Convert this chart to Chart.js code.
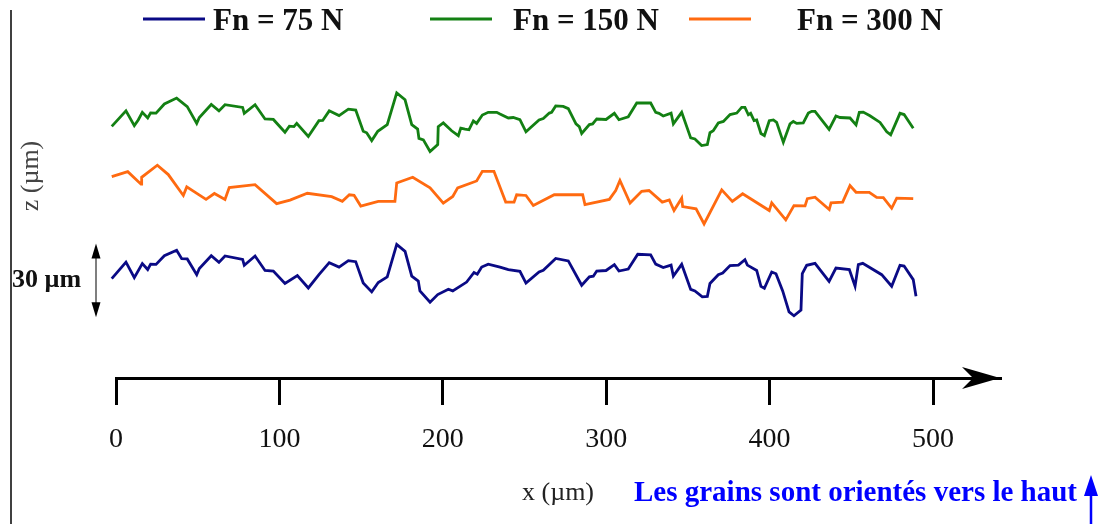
<!DOCTYPE html>
<html>
<head>
<meta charset="utf-8">
<script src="https://cdn.jsdelivr.net/npm/chart.js@4"></script>
<style>
  html, body { margin: 0; padding: 0; background: #fff; }
  #wrap { width: 1102px; height: 524px; }
</style>
</head>
<body>
<div id="wrap"><canvas id="profiles"></canvas></div>
<script>
// profile data, x and z in µm (curves are shifted vertically, as in the figure)
const seriesLabels = ["Fn = 75 N", "Fn = 150 N", "Fn = 300 N"];
const seriesColors = ["#0a0a85", "#138013", "#ff6a10"];
const xTicks = [0, 100, 200, 300, 400, 500];

const fn75X = [-2.6, 6.1, 11.2, 16.1, 19.4, 21.2, 24.5, 29.6, 37.1, 40.2, 43.6, 49.4, 51.0, 58.3, 63.0, 66.7, 77.5, 78.5, 85.1, 91.2,
  96.3, 103.4, 111.0, 117.7, 124.2, 130.5, 136.5, 142.2, 146.7, 151.3, 156.5, 160.5, 166.0, 171.8, 176.9, 181.0, 185.0, 186.0, 192.2, 196.9,
  203.4, 206.1, 214.6, 219.1, 221.1, 223.8, 227.8, 235.0, 240.1, 247.2, 250.9, 258.9, 261.5, 269.1, 276.8, 285.0, 289.7, 292.1, 294.2, 299.9,
  305.0, 307.8, 313.5, 319.3, 327.2, 330.3, 334.9, 339.7, 341.1, 346.2, 351.7, 354.3, 358.8, 361.9, 363.5, 368.6, 371.3, 375.8, 380.9, 384.9,
  386.4, 392.1, 394.7, 396.8, 401.3, 403.9, 408.0, 411.9, 414.9, 419.2, 420.0, 422.7, 427.8, 436.4, 440.6, 448.8, 452.3, 454.3, 457.0, 468.6,
  474.7, 479.8, 482.3, 487.9, 489.6];
const fn75Z = [40.4, 47.1, 40.8, 46.5, 44.1, 46.3, 46.2, 49.7, 51.9, 48.5, 48.4, 42.0, 44.5, 49.7, 47.0, 49.6, 48.2, 45.8, 49.6, 43.7,
  43.5, 38.4, 41.6, 36.6, 42.0, 46.9, 45.1, 47.7, 47.3, 38.6, 35.0, 38.8, 41.1, 54.3, 51.5, 41.4, 39.4, 35.4, 30.8, 33.9,
  36.1, 35.4, 39.0, 42.9, 42.2, 45.1, 46.3, 45.1, 44.1, 43.4, 38.6, 43.1, 43.8, 48.6, 47.6, 37.7, 41.1, 41.4, 43.5, 43.7,
  46.1, 43.5, 44.3, 50.3, 50.1, 46.3, 44.9, 45.9, 41.4, 46.2, 36.0, 35.4, 33.0, 33.2, 38.4, 42.0, 42.7, 45.7, 45.9, 48.1,
  45.9, 43.7, 37.3, 36.5, 43.1, 42.4, 35.4, 26.9, 25.3, 27.6, 42.4, 45.8, 46.6, 39.3, 44.7, 44.1, 37.3, 46.1, 46.6, 42.0,
  37.3, 45.8, 45.5, 40.0, 33.2];

const fn150X = [-2.6, 6.1, 11.2, 13.6, 16.1, 19.4, 21.2, 24.5, 29.6, 37.1, 43.6, 49.4, 51.0, 58.3, 63.0, 66.7, 77.5, 78.5, 85.1, 91.2,
  96.3, 103.4, 106.1, 108.9, 110.6, 117.7, 124.2, 126.5, 130.5, 136.5, 142.2, 146.7, 151.3, 153.4, 156.5, 160.2, 166.0, 171.8, 176.9, 181.0,
  184.6, 185.4, 188.1, 192.2, 196.9, 197.2, 200.3, 205.4, 209.5, 211.0, 213.6, 216.0, 218.7, 220.7, 224.2, 227.8, 233.0, 235.0, 240.1, 243.1,
  247.2, 250.9, 258.9, 261.5, 265.2, 266.6, 269.1, 273.7, 276.8, 281.5, 283.5, 285.0, 289.7, 291.7, 294.2, 299.9, 305.0, 307.8, 313.5, 318.7,
  327.2, 330.3, 332.3, 334.9, 339.7, 341.1, 346.2, 351.7, 354.3, 358.4, 361.9, 363.5, 365.5, 368.6, 371.7, 375.8, 379.9, 382.9, 384.9, 387.0,
  388.4, 390.5, 392.1, 394.7, 396.8, 399.8, 402.3, 404.3, 408.4, 412.5, 414.5, 416.6, 420.6, 423.7, 425.8, 427.8, 436.4, 440.6, 443.1, 449.2,
  452.9, 454.9, 457.3, 461.4, 467.6, 471.7, 474.1, 479.8, 482.3, 487.9];
const fn150Z = [102.3, 108.6, 102.6, 104.9, 108.0, 105.7, 107.8, 107.7, 111.4, 113.8, 110.3, 103.5, 105.9, 111.2, 108.6, 111.1, 110.0, 107.6, 111.1, 105.3,
  105.1, 99.9, 102.4, 102.2, 103.5, 98.2, 104.6, 104.7, 108.6, 106.7, 109.3, 108.9, 100.3, 99.7, 96.5, 100.3, 103.0, 115.9, 113.1, 103.0,
  101.2, 97.4, 96.8, 92.1, 94.9, 102.2, 103.7, 100.5, 98.5, 101.6, 101.2, 100.9, 104.5, 103.5, 106.9, 108.0, 108.0, 107.3, 105.7, 105.9,
  105.0, 100.1, 104.9, 105.5, 107.7, 108.0, 110.6, 110.4, 109.5, 103.3, 102.2, 99.4, 103.0, 103.3, 105.3, 105.1, 107.6, 105.0, 106.2, 111.8,
  111.8, 108.0, 107.6, 106.5, 107.7, 103.3, 108.0, 97.6, 97.2, 94.5, 94.9, 99.7, 100.5, 103.7, 104.3, 107.1, 107.7, 110.0, 110.0, 107.0,
  107.6, 104.6, 104.9, 99.4, 98.5, 104.6, 104.9, 103.9, 95.8, 103.3, 104.3, 103.5, 103.7, 107.7, 108.4, 108.4, 101.1, 106.5, 105.9, 105.7,
  102.9, 108.0, 108.1, 106.6, 103.9, 100.1, 98.9, 107.6, 107.1, 101.5];

const fn300X = [-2.6, 7.2, 15.3, 15.7, 25.3, 32.0, 41.2, 43.3, 55.1, 60.2, 66.7, 69.3, 85.1, 98.3, 106.5, 117.1, 132.0, 138.5, 142.8, 145.7,
  149.8, 160.5, 170.7, 171.8, 181.6, 192.2, 200.3, 206.1, 209.1, 220.7, 224.2, 231.3, 238.5, 243.6, 245.2, 250.9, 255.4, 268.2, 285.6, 287.0,
  301.9, 305.8, 308.4, 314.6, 321.7, 326.2, 334.3, 338.6, 341.5, 346.2, 346.8, 355.0, 359.9, 370.7, 377.2, 383.5, 399.8, 401.3, 409.9, 414.9,
  421.7, 423.1, 427.8, 436.5, 437.6, 444.7, 449.2, 452.9, 461.0, 465.5, 469.6, 474.7, 477.8, 487.9];
const fn300Z = [81.9, 83.9, 78.8, 81.6, 86.5, 82.7, 74.2, 77.7, 72.6, 75.0, 72.6, 77.4, 78.6, 70.9, 72.3, 75.1, 73.7, 71.8, 74.5, 74.3,
  69.9, 71.8, 71.8, 79.3, 81.6, 77.3, 71.1, 73.8, 77.3, 80.1, 84.0, 84.0, 71.5, 71.5, 74.5, 74.2, 70.1, 74.5, 74.5, 70.5,
  72.6, 76.2, 80.3, 71.1, 75.9, 76.2, 71.5, 72.4, 68.1, 73.1, 69.7, 68.8, 62.6, 76.5, 71.8, 74.9, 68.1, 71.2, 64.3, 70.1,
  70.0, 72.9, 73.5, 68.5, 71.2, 71.5, 78.2, 75.5, 75.5, 73.4, 73.3, 69.0, 73.1, 72.9];

const toPoints = (xs, zs) => xs.map((x, i) => ({ x: x, y: zs[i] }));

const serif = "'Liberation Serif', 'DejaVu Serif', serif";

// everything drawn around the plot: legend, labels, arrows
const decorations = {
  id: "decorations",
  afterDraw(chart) {
    const ctx = chart.ctx;
    const area = chart.chartArea;
    const xs = chart.scales.x;
    const ys = chart.scales.y;
    ctx.save();

    // thin frame line on the left
    ctx.strokeStyle = "#000";
    ctx.lineWidth = 1.5;
    ctx.beginPath();
    ctx.moveTo(11, 10);
    ctx.lineTo(11, chart.height);
    ctx.stroke();

    // legend
    const slots = [{ line: 143, text: 213 }, { line: 430, text: 513 }, { line: 689, text: 797 }];
    ctx.font = "bold 31px " + serif;
    ctx.textBaseline = "alphabetic";
    ctx.textAlign = "left";
    chart.data.datasets.forEach((ds, i) => {
      ctx.strokeStyle = ds.borderColor;
      ctx.lineWidth = 3;
      ctx.beginPath();
      ctx.moveTo(slots[i].line, 19);
      ctx.lineTo(slots[i].line + 62, 19);
      ctx.stroke();
      ctx.fillStyle = "#111";
      ctx.fillText(ds.label, slots[i].text, 30);
    });

    // arrow head of the x axis
    const yAxis = xs.top;
    ctx.fillStyle = "#000";
    ctx.beginPath();
    ctx.moveTo(area.right, yAxis);
    ctx.lineTo(area.right - 38, yAxis - 11);
    ctx.lineTo(area.right - 27, yAxis);
    ctx.lineTo(area.right - 38, yAxis + 11);
    ctx.closePath();
    ctx.fill();

    // z axis title
    ctx.save();
    ctx.translate(31, 176);
    ctx.rotate(-Math.PI / 2);
    ctx.font = "26px " + serif;
    ctx.fillStyle = "#444";
    ctx.textAlign = "center";
    ctx.textBaseline = "middle";
    ctx.fillText("z (µm)", 0, 0);
    ctx.restore();

    // 30 µm scale bar, sized from the z scale
    const top = ys.getPixelForValue(54.7);
    const bot = ys.getPixelForValue(24.7);
    const bx = 96;
    ctx.strokeStyle = "#555";
    ctx.lineWidth = 1.5;
    ctx.beginPath();
    ctx.moveTo(bx, top + 6);
    ctx.lineTo(bx, bot - 6);
    ctx.stroke();
    ctx.fillStyle = "#000";
    ctx.beginPath();
    ctx.moveTo(bx, top);
    ctx.lineTo(bx - 4.5, top + 15);
    ctx.lineTo(bx + 4.5, top + 15);
    ctx.closePath();
    ctx.fill();
    ctx.beginPath();
    ctx.moveTo(bx, bot);
    ctx.lineTo(bx - 4.5, bot - 15);
    ctx.lineTo(bx + 4.5, bot - 15);
    ctx.closePath();
    ctx.fill();
    ctx.font = "bold 26px " + serif;
    ctx.fillStyle = "#111";
    ctx.textAlign = "left";
    ctx.textBaseline = "middle";
    ctx.fillText("30 µm", 12, (top + bot) / 2);

    // note on grain orientation
    ctx.font = "bold 29px " + serif;
    ctx.fillStyle = "#0000ff";
    ctx.textBaseline = "alphabetic";
    ctx.fillText("Les grains sont orientés vers le haut", 634, 501);
    ctx.strokeStyle = "#0000ff";
    ctx.lineWidth = 2.5;
    ctx.beginPath();
    ctx.moveTo(1091, chart.height);
    ctx.lineTo(1091, 490);
    ctx.stroke();
    ctx.beginPath();
    ctx.moveTo(1091, 475);
    ctx.lineTo(1084, 496);
    ctx.lineTo(1098, 496);
    ctx.closePath();
    ctx.fill();

    ctx.restore();
  }
};

new Chart(document.getElementById("profiles"), {
  type: "line",
  data: {
    datasets: [
      { label: seriesLabels[0], data: toPoints(fn75X, fn75Z), borderColor: seriesColors[0] },
      { label: seriesLabels[1], data: toPoints(fn150X, fn150Z), borderColor: seriesColors[1] },
      { label: seriesLabels[2], data: toPoints(fn300X, fn300Z), borderColor: seriesColors[2] }
    ]
  },
  options: {
    responsive: true,
    maintainAspectRatio: false,
    animation: false,
    layout: { padding: { top: 41, left: 116, right: 102, bottom: 0 } },
    elements: {
      line: { borderWidth: 2.8, tension: 0, fill: false },
      point: { radius: 0 }
    },
    datasets: { line: { clip: false } },
    plugins: {
      legend: { display: false },
      tooltip: { enabled: false }
    },
    scales: {
      x: {
        type: "linear",
        min: 0,
        max: 541,
        afterBuildTicks: (s) => { s.ticks = xTicks.map(v => ({ value: v })); },
        afterFit: (s) => { s.height = 146; },
        grid: { drawOnChartArea: false, drawTicks: true, tickLength: 27, lineWidth: 3, color: "#000" },
        border: { display: true, width: 3, color: "#000" },
        ticks: { font: { family: serif, size: 28 }, color: "#111", padding: 18, maxRotation: 0 },
        title: { display: true, text: "x (µm)", font: { family: serif, size: 26 }, color: "#222", padding: { top: 0, bottom: 15 } }
      },
      y: { display: false, min: 0, max: 137 }
    }
  },
  plugins: [decorations]
});
</script>
</body>
</html>
